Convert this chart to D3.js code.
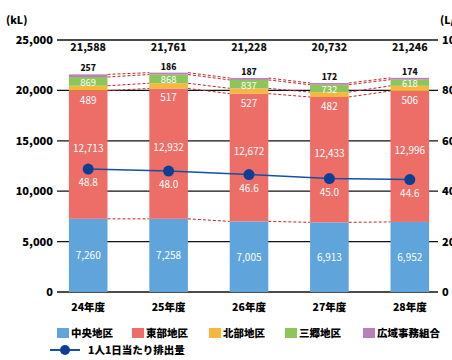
<!DOCTYPE html>
<html>
<head>
<meta charset="utf-8">
<script src="https://cdn.jsdelivr.net/npm/d3@7"></script>
<style>
  body { margin: 0; background: #fff; }
  svg text { font-family: "Noto Sans CJK JP", "Noto Sans", sans-serif; }
</style>
</head>
<body>
<svg id="chart"></svg>
<script>
const width = 452, height = 360;

// data
const years = ["24年度", "25年度", "26年度", "27年度", "28年度"];
const seriesNames = ["中央地区", "東部地区", "北部地区", "三郷地区", "広域事務組合"];
const colors = ["#5fa4da", "#ec6e67", "#f6b73f", "#8cc65a", "#b97fba"];
const blueVals = [7260, 7258, 7005, 6913, 6952];
const redVals = [12713, 12932, 12672, 12433, 12996];
const yellowVals = [489, 517, 527, 482, 506];
const greenVals = [869, 868, 837, 732, 618];
const purpleVals = [257, 186, 187, 172, 174];
const lineName = "1人1日当たり排出量";
const lineVals = [48.8, 48.0, 46.6, 45.0, 44.6];
const leftTicks = [0, 5000, 10000, 15000, 20000, 25000];
const rightTicks = [0, 20, 40, 60, 80, 100];

const svg = d3.select("#chart")
    .attr("width", width)
    .attr("height", height);

const x = d3.scaleBand()
    .domain(years)
    .range([48, 450])
    .paddingInner(0.52)
    .paddingOuter(0.26);

const y = d3.scaleLinear().domain([0, 25000]).range([292, 40]);
const y2 = d3.scaleLinear().domain([0, 100]).range([292, 40]);

const rows = years.map((yr, i) => ({
    year: yr,
    s0: blueVals[i], s1: redVals[i], s2: yellowVals[i], s3: greenVals[i], s4: purpleVals[i]
}));
const stack = d3.stack().keys(["s0", "s1", "s2", "s3", "s4"])(rows);

// gridlines + left axis
const gridX0 = 57, gridX1 = 438;
svg.append("g")
    .selectAll("line")
    .data(leftTicks)
    .join("line")
    .attr("x1", gridX0).attr("x2", gridX1)
    .attr("y1", d => y(d)).attr("y2", d => y(d))
    .attr("stroke", "#111")
    .attr("stroke-width", d => (d === 0 || d === 25000) ? 1.6 : 1.2);

svg.append("g")
    .selectAll("text")
    .data(leftTicks)
    .join("text")
    .attr("x", 53)
    .attr("y", d => y(d) + 4)
    .attr("text-anchor", "end")
    .attr("font-size", 11)
    .attr("font-weight", 900)
    .text(d => d3.format(",")(d));

// right axis (labels partly outside the window, as in the original)
svg.append("g")
    .selectAll("text")
    .data(rightTicks)
    .join("text")
    .attr("x", 442)
    .attr("y", d => y2(d) + 4)
    .attr("font-size", 11)
    .attr("font-weight", 900)
    .text(d => d);

svg.append("text").attr("x", 6).attr("y", 24)
    .attr("font-size", 10.5).attr("font-weight", 900).text("(kL)");
svg.append("text").attr("x", 440).attr("y", 24)
    .attr("font-size", 10.5).attr("font-weight", 900).text("(L/人日)");

// series lines between bars
const seriesLines = svg.append("g");
stack.forEach(layer => {
    for (let i = 0; i < years.length - 1; i++) {
        seriesLines.append("line")
            .attr("x1", x(years[i]) + x.bandwidth())
            .attr("x2", x(years[i + 1]))
            .attr("y1", y(layer[i][1]))
            .attr("y2", y(layer[i + 1][1]))
            .attr("stroke", "#c3272b")
            .attr("stroke-width", 1)
            .attr("stroke-dasharray", "3,2");
    }
});

// bars
svg.append("g")
    .selectAll("g")
    .data(stack)
    .join("g")
    .attr("fill", (d, i) => colors[i])
    .selectAll("rect")
    .data(d => d)
    .join("rect")
    .attr("x", d => x(d.data.year))
    .attr("width", x.bandwidth())
    .attr("y", d => y(d[1]))
    .attr("height", d => y(d[0]) - y(d[1]));

const fmt = d3.format(",");
const cx = yr => x(yr) + x.bandwidth() / 2;

// segment labels
const labels = svg.append("g").attr("text-anchor", "middle");
rows.forEach((r, i) => {
    const yr = r.year;
    labels.append("text").attr("x", cx(yr)).attr("y", y(blueVals[i] / 2) + 4)
        .attr("fill", "#fff").attr("font-size", 10).text(fmt(blueVals[i]));
    labels.append("text").attr("x", cx(yr)).attr("y", y(blueVals[i] + redVals[i] * 0.55) + 4)
        .attr("fill", "#fff").attr("font-size", 10).text(fmt(redVals[i]));
    const redTop = blueVals[i] + redVals[i];
    labels.append("text").attr("x", cx(yr)).attr("y", y(redTop) + 13)
        .attr("fill", "#fff").attr("font-size", 10).text(fmt(yellowVals[i]));
    labels.append("text").attr("x", cx(yr)).attr("y", y(redTop + yellowVals[i] + greenVals[i] / 2) + 4.5)
        .attr("fill", "#fff").attr("font-size", 9.5).text(fmt(greenVals[i]));
    const total = redTop + yellowVals[i] + greenVals[i] + purpleVals[i];
    labels.append("text").attr("x", cx(yr)).attr("y", y(total) - 3)
        .attr("fill", "#111").attr("font-size", 8.5).attr("font-weight", 900).text(fmt(purpleVals[i]));
    labels.append("text").attr("x", cx(yr)).attr("y", 51)
        .attr("fill", "#111").attr("font-size", 10.5).attr("font-weight", 900).text(fmt(total));
});

// line series
const line = d3.line()
    .x((d, i) => cx(years[i]))
    .y(d => y2(d));

svg.append("path")
    .datum(lineVals)
    .attr("fill", "none")
    .attr("stroke", "#1450a8")
    .attr("stroke-width", 1.5)
    .attr("d", line);

svg.append("g")
    .selectAll("circle")
    .data(lineVals)
    .join("circle")
    .attr("cx", (d, i) => cx(years[i]))
    .attr("cy", d => y2(d))
    .attr("r", 5.5)
    .attr("fill", "#0b3f96");

svg.append("g")
    .selectAll("text")
    .data(lineVals)
    .join("text")
    .attr("x", (d, i) => cx(years[i]))
    .attr("y", d => y2(d) + 17)
    .attr("text-anchor", "middle")
    .attr("fill", "#fff")
    .attr("font-size", 10)
    .text(d => d.toFixed(1));

// x axis labels
svg.append("g")
    .selectAll("text")
    .data(years)
    .join("text")
    .attr("x", d => cx(d))
    .attr("y", 311)
    .attr("text-anchor", "middle")
    .attr("font-size", 10.5)
    .attr("font-weight", 900)
    .text(d => d);

// legend
const legendX = [57, 132, 209, 285, 363];
const legend = svg.append("g");
seriesNames.forEach((name, i) => {
    legend.append("rect")
        .attr("x", legendX[i]).attr("y", 328)
        .attr("width", 12).attr("height", 10)
        .attr("fill", colors[i]);
    legend.append("text")
        .attr("x", legendX[i] + 14).attr("y", 337)
        .attr("font-size", 10.5).attr("font-weight", 900)
        .text(name);
});
legend.append("line")
    .attr("x1", 50).attr("x2", 80).attr("y1", 350).attr("y2", 350)
    .attr("stroke", "#1450a8").attr("stroke-width", 2);
legend.append("circle")
    .attr("cx", 65).attr("cy", 350).attr("r", 5)
    .attr("fill", "#0b3f96");
legend.append("text")
    .attr("x", 88).attr("y", 354)
    .attr("font-size", 10.5).attr("font-weight", 900)
    .text(lineName);
</script>
</body>
</html>
